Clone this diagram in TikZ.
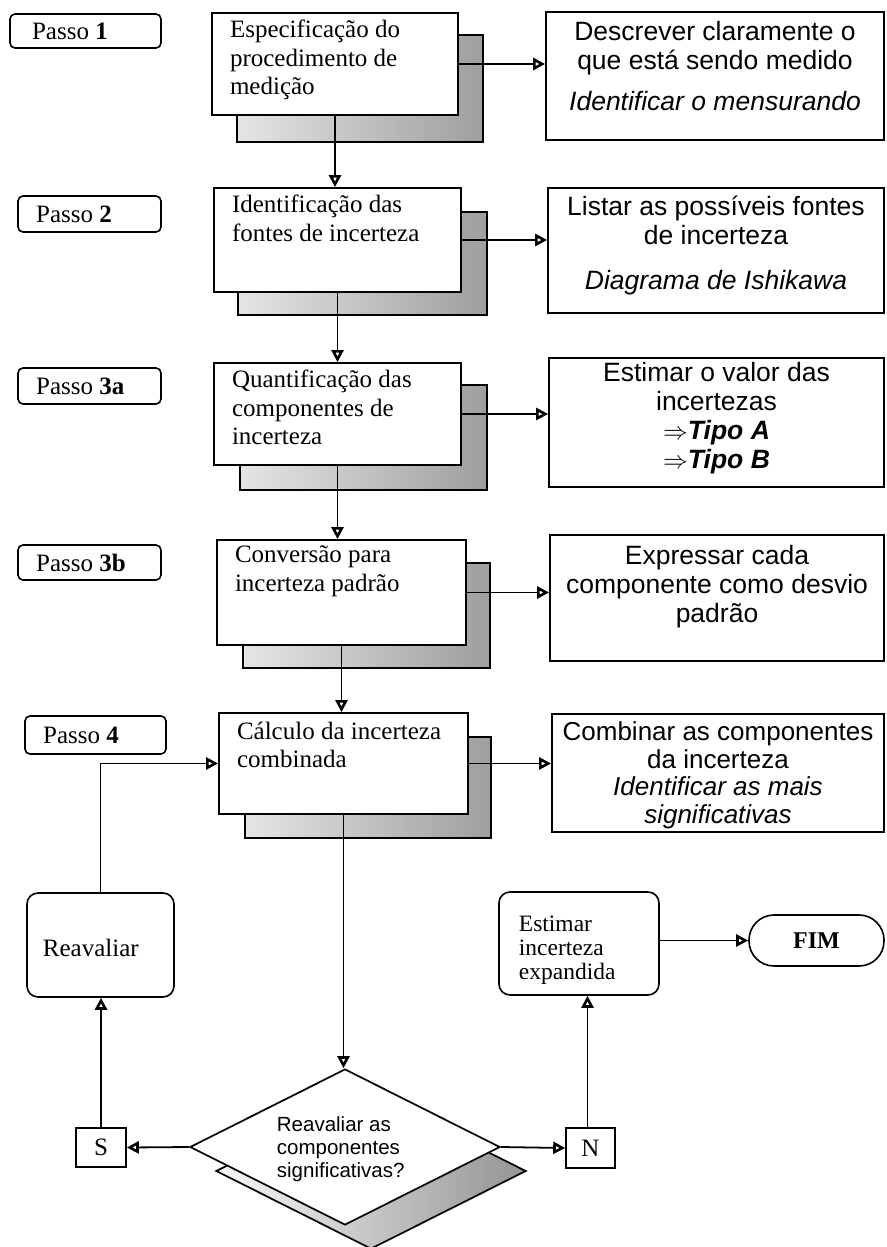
\documentclass[tikz,border=0pt]{standalone}
\usepackage{fontspec}
\setmainfont{Liberation Serif}
\newfontfamily\arialf{Liberation Sans}
\usetikzlibrary{arrows.meta,shapes.geometric,fit}
\begin{document}
\begin{tikzpicture}[x=1pt,y=-1pt,
  line width=1.8pt,
  box/.style={draw, inner sep=0pt, line width=1.8pt},
  mainbox/.style={box, fill=white},
  shadowbox/.style={box, left color=black!10, right color=black!38},
  passo/.style={draw, rounded corners=5pt, inner sep=0pt, line width=1.6pt},
  rbox/.style={box, fill=white},
  rnd/.style={draw, rounded corners=11pt, inner sep=0pt, line width=1.6pt, fill=white},
  ttext/.style={inner sep=0pt, font=\fontsize{25}{28.5}\selectfont, align=left},
  atext/.style={inner sep=0pt, font=\arialf\fontsize{26.5}{29}\selectfont, align=center},
  arr/.style={line width=1.8pt, -{Triangle[open,length=12pt,width=12pt,line width=2.6pt]}},
]
\useasboundingbox (0,0) rectangle (886,1247);

% Passo labels
\node[passo, fit={(10,14) (161,48)}] (p1) {};
\node[passo, fit={(18,196) (161,232)}] (p2) {};
\node[passo, fit={(18,368) (161,404)}] (p3a) {};
\node[passo, fit={(18,545) (161,580)}] (p3b) {};
\node[passo, fit={(25,716) (166,754)}] (p4) {};
\node[ttext, anchor=west] (tp1) at ([xshift=22pt]p1.west) {Passo \textbf{1}};
\node[ttext, anchor=west] (tp2) at ([xshift=18pt]p2.west) {Passo \textbf{2}};
\node[ttext, anchor=west] (tp3a) at ([xshift=18pt]p3a.west) {Passo \textbf{3a}};
\node[ttext, anchor=west] (tp3b) at ([xshift=18pt]p3b.west) {Passo \textbf{3b}};
\node[ttext, anchor=west] (tp4) at ([xshift=18pt]p4.west) {Passo \textbf{4}};

% shadows
\node[shadowbox, fit={(237,35) (483,142)}] (s1) {};
\node[shadowbox, fit={(238,212) (487,315)}] (s2) {};
\node[shadowbox, fit={(240,385) (487,490)}] (s3) {};
\node[shadowbox, fit={(243,563) (490,668)}] (s4) {};
\node[shadowbox, fit={(245,737) (491,838)}] (s5) {};

% main boxes
\node[mainbox, fit={(212,13) (458,115)}] (b1) {};
\node[mainbox, fit={(214,188) (461,292)}] (b2) {};
\node[mainbox, fit={(214,363) (461,465)}] (b3) {};
\node[mainbox, fit={(217,540) (466,645)}] (b4) {};
\node[mainbox, fit={(219,713) (468,814)}] (b5) {};
\node[ttext, anchor=north west] (tb1) at ([shift={(18pt,-7pt)}]b1.north west) {Especificação do\\procedimento de\\medição};
\node[ttext, anchor=north west] (tb2) at ([shift={(18pt,-7pt)}]b2.north west) {Identificação das\\fontes de incerteza};
\node[ttext, anchor=north west] (tb3) at ([shift={(18pt,-7pt)}]b3.north west) {Quantificação das\\componentes de\\incerteza};
\node[ttext, anchor=north west] (tb4) at ([shift={(18pt,-6pt)}]b4.north west) {Conversão para\\incerteza padrão};
\node[ttext, anchor=north west] (tb5) at ([shift={(18pt,-9pt)}]b5.north west) {Cálculo da incerteza\\combinada};

% right boxes
\node[rbox, fit={(546,12) (884,140)}] (r1) {};
\node[rbox, fit={(548,188) (884,313)}] (r2) {};
\node[rbox, fit={(549,358) (884,487)}] (r3) {};
\node[rbox, fit={(550,535) (884,661)}] (r4) {};
\node[rbox, fit={(552,714) (884,832)}] (r5) {};
\node[atext, anchor=north] (tr1) at ([yshift=-9pt]r1.north) {Descrever claramente o\\que está sendo medido\\[12pt]\textit{Identificar o mensurando}};
\node[atext, anchor=north] (tr2) at ([yshift=-8pt]r2.north) {Listar as possíveis fontes\\de incerteza\\[16pt]\textit{Diagrama de Ishikawa}};
\node[atext, anchor=north] (tr3) at ([yshift=-4pt]r3.north) {Estimar o valor das\\incertezas\\$\Rightarrow$\textbf{\textit{Tipo A}}\\$\Rightarrow$\textbf{\textit{Tipo B}}};
\node[atext, anchor=north] (tr4) at ([yshift=-10pt]r4.north) {Expressar cada\\componente como desvio\\padrão};
\node[atext, anchor=north, font=\arialf\fontsize{26}{27.5}\selectfont] (tr5) at ([yshift=-8pt]r5.north) {Combinar as componentes\\da incerteza\\\textit{Identificar as mais}\\\textit{significativas}};

% lower part
\node[rnd, fit={(27,893) (174,997)}] (reav) {};
\node[ttext, anchor=base west] (treav) at (42,956) {Reavaliar};
\node[rnd, fit={(499,892) (659,995)}] (est) {};
\node[inner sep=0pt, font=\fontsize{23.5}{24}\selectfont, align=left, anchor=north west] (test) at (518,915) {Estimar\\incerteza\\expandida};
\node[draw, rounded corners=25pt, inner sep=0pt, line width=1.6pt, fit={(749,915) (884,966)}] (fim) {};
\node[font=\fontsize{24}{26}\selectfont\bfseries, inner sep=0pt] (tfim) at (fim.center) {FIM};

\node[diamond, draw, line width=1.7pt, minimum width=310pt, minimum height=156pt, inner sep=0pt, left color=black!3, right color=black!42] (dsh) at (371,1171) {};
\node[diamond, draw, line width=1.7pt, minimum width=310pt, minimum height=156pt, inner sep=0pt, fill=white] (dia) at (345,1147) {};
\node[inner sep=0pt, font=\arialf\fontsize{20.5}{23}\selectfont, align=left, anchor=north west] (tdia) at (276,1116) {Reavaliar as\\componentes\\significativas?};

\node[box, line width=1.6pt, fit={(76,1128) (126,1167)}] (sb) {};
\node[font=\fontsize{25}{28}\selectfont, inner sep=0pt] (tsb) at (sb.center) {S};
\node[box, line width=1.6pt, fit={(566,1128) (615,1168)}] (nb) {};
\node[font=\fontsize{25}{28}\selectfont, inner sep=0pt] (tnb) at (nb.center) {N};

% connectors
\draw[arr] (b1.east) -- (b1.east -| r1.west);
\draw[arr] (b2.east) -- (b2.east -| r2.west);
\draw[arr] (b3.east) -- (b3.east -| r3.west);
\draw[arr] (b4.east) -- (b4.east -| r4.west);
\draw[arr] (b5.east) -- (b5.east -| r5.west);
\draw[arr] (b1.south) -- (b1.south |- b2.north);
\draw[arr] (b2.south) -- (b2.south |- b3.north);
\draw[arr] (b3.south) -- (b3.south |- b4.north);
\draw[arr] (b4.south) -- (b4.south |- b5.north);
\draw[arr] (b5.south) -- (b5.south |- dia.north);
\draw[arr] (reav.north) |- (b5.west);
\draw[arr] (dia.west) -- (sb.east);
\draw[arr] (dia.east) -- (nb.west);
\draw[arr] (sb.north) -- (sb.north |- reav.south);
\draw[arr] ([xshift=-3pt]nb.north) -- ([xshift=-3pt]nb.north |- est.south);
\draw[arr] (est.east |- fim.center) -- (fim.west);
\end{tikzpicture}
\end{document}
